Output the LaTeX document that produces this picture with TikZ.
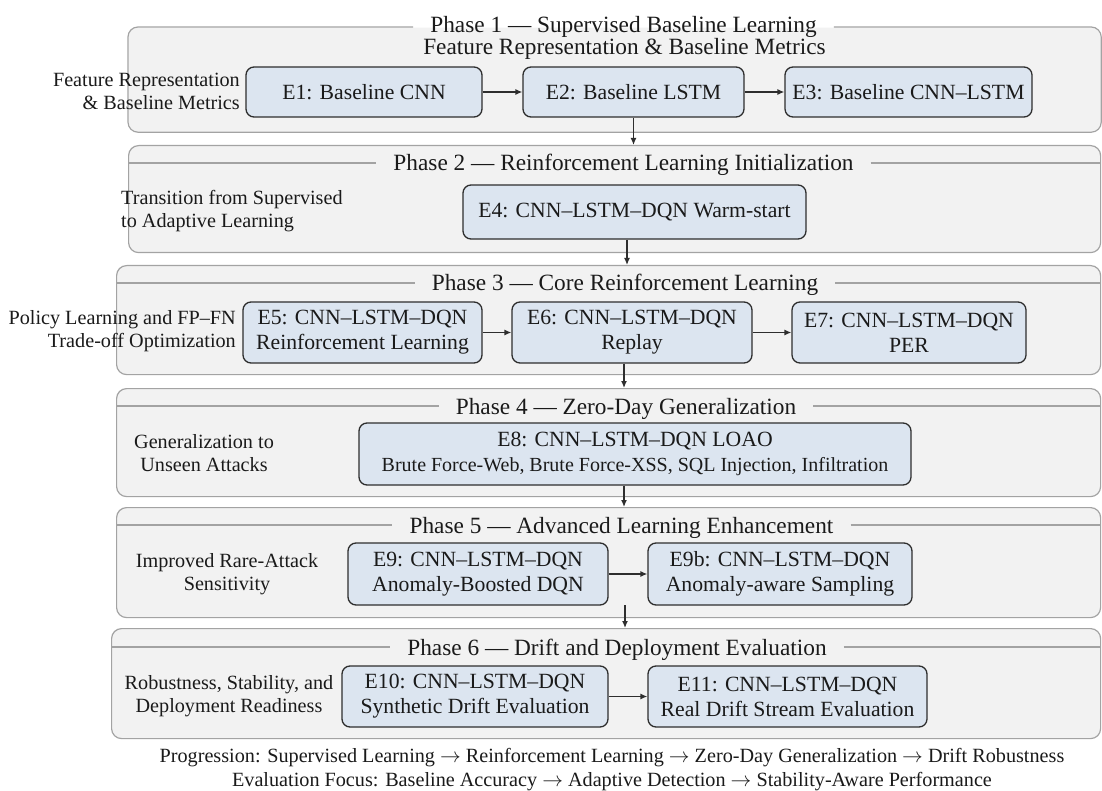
\documentclass[tikz,border=0pt]{standalone}
\usepackage{fontspec}
\setmainfont{Liberation Serif}
\usetikzlibrary{arrows.meta,calc}

\definecolor{panelfill}{HTML}{F2F2F2}
\definecolor{panelline}{HTML}{A3A3A3}
\definecolor{boxfill}{HTML}{DCE5F0}
\definecolor{boxline}{HTML}{2E2E2E}
\definecolor{ink}{HTML}{1A1A1A}

\tikzset{
  panel/.style={fill=panelfill, draw=panelline, line width=1.2pt, rounded corners=10pt,
    anchor=north west, inner sep=0pt},
  hdr/.style={draw=panelline, line width=1.2pt},
  phasetitle/.style={font=\fontsize{23.3}{26}\selectfont, text=ink, inner xsep=17pt,
    inner ysep=0pt},
  expbox/.style={draw=boxline, fill=boxfill, line width=1.3pt, rounded corners=8pt,
    font=\fontsize{21.7}{25}\selectfont, text=ink, align=center, inner sep=0pt},
  sidelabel/.style={font=\fontsize{20.2}{23}\selectfont, text=ink, inner sep=0pt},
  flow/.style={draw=boxline, line width=1.3pt, -{Latex[length=7pt,width=6pt]}},
  foot/.style={font=\fontsize{20.2}{24}\selectfont, text=ink, inner sep=0pt, anchor=base},
}

\begin{document}
\begin{tikzpicture}[x=1pt,y=-1pt]
\useasboundingbox[fill=white] (0,0) rectangle (1102,791);

% ---------------- Phase panels ----------------
\node[panel, draw=none, minimum width=972, minimum height=104] (p1) at (128,27) {};
\node[panel, minimum width=972, minimum height=107] (p2) at (128,145) {};
\node[panel, minimum width=984, minimum height=109] (p3) at (116,265) {};
\node[panel, minimum width=984, minimum height=108] (p4) at (116,388) {};
\node[panel, minimum width=984, minimum height=110] (p5) at (116,507) {};
\node[panel, minimum width=989, minimum height=110] (p6) at (111,628) {};

% header rows
\coordinate (h2) at (0,163);
\coordinate (h3) at (0,283);
\coordinate (h4) at (0,406);
\coordinate (h5) at (0,525);
\coordinate (h6) at (0,647);

% ---------------- Phase titles ----------------
\node[phasetitle, anchor=base] (t1) at (623.5,33) {Phase 1 --- Supervised Baseline Learning};
\node[phasetitle, anchor=base] (t1b) at (624.5,55) {Feature Representation \& Baseline Metrics};
\node[phasetitle, anchor=base] (t2) at (623.5,171) {Phase 2 --- Reinforcement Learning Initialization};
\node[phasetitle, anchor=base] (t3) at (625,291) {Phase 3 --- Core Reinforcement Learning};
\node[phasetitle, anchor=base] (t4) at (626,414) {Phase 4 --- Zero-Day Generalization};
\node[phasetitle, anchor=base] (t5) at (621.5,533) {Phase 5 --- Advanced Learning Enhancement};
\node[phasetitle, anchor=base] (t6) at (617,655) {Phase 6 --- Drift and Deployment Evaluation};

% phase 1 border, open behind its title
\draw[hdr, rounded corners=10pt] (t1.west |- p1.north) -- (p1.north west) -- (p1.south west)
  -- (p1.south east) -- (p1.north east) -- (t1.east |- p1.north);

% header rules of phases 2--6
\foreach \i in {2,...,6}{
  \draw[hdr] (p\i.west |- h\i) -- (t\i.west |- h\i);
  \draw[hdr] (t\i.east |- h\i) -- (p\i.east |- h\i);
}

% ---------------- Side labels ----------------
\node[sidelabel, align=right, anchor=east] (l1) at (240,91.5)
  {Feature Representation\\\& Baseline Metrics};
\node[sidelabel, align=left, anchor=west] (l2) at (121,211)
  {Transition from Supervised\\to Adaptive Learning};
\node[sidelabel, align=right, anchor=east] (l3) at (236,331.5)
  {Policy Learning and FP--FN\\Trade-off Optimization};
\node[sidelabel, align=center] (l4) at (204,453.5) {Generalization to\\Unseen Attacks};
\node[sidelabel, align=center] (l5) at (227,574.5) {Improved Rare-Attack\\Sensitivity};
\node[sidelabel, align=center] (l6) at (229,696) {Robustness, Stability, and\\Deployment Readiness};

% ---------------- Experiment boxes ----------------
\node[expbox, minimum width=236, minimum height=50] (e1) at (364,92) {E1: Baseline CNN};
\node[expbox, minimum width=221, minimum height=50] (e2) at (633.5,92) {E2: Baseline LSTM};
\node[expbox, minimum width=247, minimum height=50] (e3) at (908.5,92) {E3: Baseline CNN--LSTM};

\node[expbox, minimum width=343, minimum height=54] (e4) at (634.5,212) {E4: CNN--LSTM--DQN Warm-start};

\node[expbox, minimum width=239, minimum height=61] (e5) at (362.5,332.5)
  {E5: CNN--LSTM--DQN\\Reinforcement Learning};
\node[expbox, minimum width=240, minimum height=61] (e6) at (632,332.5)
  {E6: CNN--LSTM--DQN\\Replay};
\node[expbox, minimum width=234, minimum height=61] (e7) at (909,332.5)
  {E7: CNN--LSTM--DQN\\PER};

\node[expbox, minimum width=552, minimum height=62] (e8) at (635,454)
  {E8: CNN--LSTM--DQN LOAO\\{\fontsize{20}{25}\selectfont Brute Force-Web, Brute Force-XSS, SQL Injection, Infiltration}};

\node[expbox, minimum width=260, minimum height=62] (e9) at (478,574)
  {E9: CNN--LSTM--DQN\\Anomaly-Boosted DQN};
\node[expbox, minimum width=264, minimum height=62] (e9b) at (780,574)
  {E9b: CNN--LSTM--DQN\\Anomaly-aware Sampling};

\node[expbox, minimum width=266, minimum height=61] (e10) at (475,696.5)
  {E10: CNN--LSTM--DQN\\Synthetic Drift Evaluation};
\node[expbox, minimum width=279, minimum height=61] (e11) at (787.5,696.5)
  {E11: CNN--LSTM--DQN\\Real Drift Stream Evaluation};

% ---------------- Connectors ----------------
\draw[flow] (e1) -- (e2);
\draw[flow] (e2) -- (e3);
\draw[flow] (e5) -- (e6);
\draw[flow] (e6) -- (e7);
\draw[flow] (e9) -- (e9b);
\draw[flow] (e10) -- (e11);

\coordinate (a2) at (627,0);
\coordinate (a3) at (624,0);
\coordinate (a5) at (625,605);
\draw[flow] (e2.south) -- (e2.south |- p2.north);
\draw[flow] (e4.south -| a2) -- (a2 |- p3.north);
\draw[flow] (e6.south -| a3) -- (a3 |- p4.north);
\draw[flow] (e8.south -| a3) -- (a3 |- p5.north);
\draw[flow] (a5) -- (a5 |- p6.north);

% ---------------- Summary lines ----------------
\node[foot] (f1) at (612,762)
  {Progression: Supervised Learning $\rightarrow$ Reinforcement Learning $\rightarrow$ Zero-Day Generalization $\rightarrow$ Drift Robustness};
\node[foot] (f2) at (612,786)
  {Evaluation Focus: Baseline Accuracy $\rightarrow$ Adaptive Detection $\rightarrow$ Stability-Aware Performance};
\end{tikzpicture}
\end{document}
